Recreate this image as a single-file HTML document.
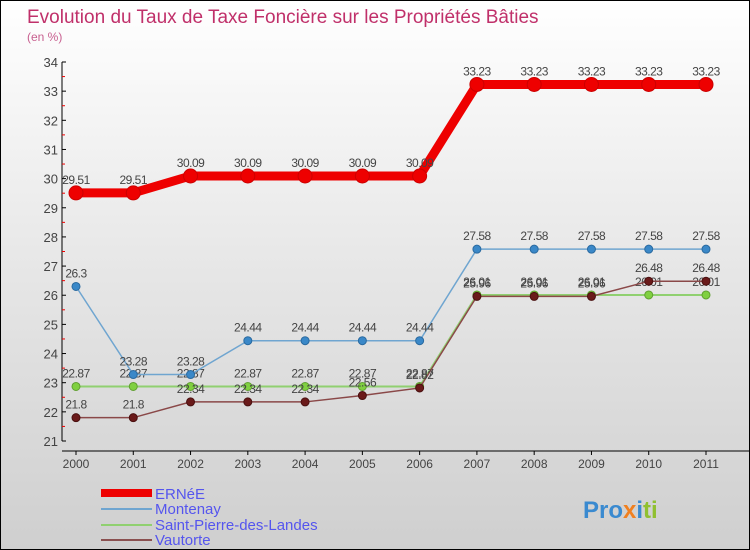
<!DOCTYPE html>
<html><head><meta charset="utf-8"><style>
body{margin:0}
#c{width:748px;height:548px;border:1px solid #000;background:linear-gradient(#fff,#e6e6e6 50%,#cfcfcf);position:relative;font-family:"Liberation Sans",sans-serif;overflow:hidden}
</style></head><body>
<div id="c">
<svg id="s" width="748" height="548" xmlns="http://www.w3.org/2000/svg">
<text x="26" y="22" font-size="19" fill="#c0306a">Evolution du Taux de Taxe Foncière sur les Propriétés Bâties</text>
<text x="26" y="40" font-size="12" fill="#c86090">(en %)</text>
<g id="ax"></g><g id="ser"></g>
<g font-size="15" fill="#5555ee">
<rect x="100" y="488" width="51" height="8" fill="#e00"/>
<text x="154" y="498">ERNéE</text>
<rect x="100" y="507" width="51" height="2" fill="#6fa5d0"/>
<text x="154" y="513">Montenay</text>
<rect x="100" y="523" width="51" height="2" fill="#90d070"/>
<text x="154" y="529">Saint-Pierre-des-Landes</text>
<rect x="100" y="538" width="51" height="2" fill="#8a5050"/>
<text x="154" y="544">Vautorte</text>
</g>
<text x="582" y="517" font-size="24" font-weight="bold"><tspan fill="#3a8ad0">Pro</tspan><tspan fill="#f08020">x</tspan><tspan fill="#3a8ad0">i</tspan><tspan fill="#90c030">ti</tspan></text>
</svg></div>
<script>
const years=[2000,2001,2002,2003,2004,2005,2006,2007,2008,2009,2010,2011];
const ernee=[29.51,29.51,30.09,30.09,30.09,30.09,30.09,33.23,33.23,33.23,33.23,33.23];
const montenay=[26.3,23.28,23.28,24.44,24.44,24.44,24.44,27.58,27.58,27.58,27.58,27.58];
const saintPierre=[22.87,22.87,22.87,22.87,22.87,22.87,22.87,26.01,26.01,26.01,26.01,26.01];
const vautorte=[21.8,21.8,22.34,22.34,22.34,22.56,22.82,25.96,25.96,25.96,26.48,26.48];
const yTicks=[21,22,23,24,25,26,27,28,29,30,31,32,33,34];
const NS="http://www.w3.org/2000/svg";
const x=i=>75+i*(630/11);
const y=v=>440-(v-21)*(379/13);
function mk(t,a,p){const e=document.createElementNS(NS,t);for(const k in a)e.setAttribute(k,a[k]);if(p)p.appendChild(e);return e;}
const ax=document.getElementById('ax');
let l=mk('line',{x1:61,y1:61,x2:61,y2:440,stroke:'#000'},ax);


l=mk('line',{x1:61,y1:450,x2:748,y2:450,stroke:'#000'},ax);


yTicks.forEach(v=>{mk('line',{x1:61,x2:65,y1:y(v),y2:y(v),stroke:'#000'},ax);
 if(v<34)mk('line',{x1:61,x2:64,y1:y(v+0.5),y2:y(v+0.5),stroke:'#e00'},ax);
 const t=mk('text',{x:57,y:y(v)+5,'text-anchor':'end','font-size':13,fill:'#444'},ax);t.textContent=v;
 
 });
years.forEach((yr,i)=>{mk('line',{x1:x(i),x2:x(i),y1:450,y2:454,stroke:'#000'},ax);
 const t=mk('text',{x:x(i),y:467,'text-anchor':'middle','font-size':12,fill:'#444'},ax);t.textContent=yr;
 
 });
const ser=document.getElementById('ser');
function draw(d,name,col,w,r,dot,stk){
 const g=mk('g',{},ser);
 
 
 mk('polyline',{points:d.map((v,i)=>x(i)+','+y(v)).join(' '),fill:'none',stroke:col,'stroke-width':w},g);
 d.forEach((v,i)=>{const c=mk('circle',{cx:x(i),cy:y(v),r:r,fill:dot,stroke:stk,'stroke-width':1},g);
  
  
  const t=mk('text',{x:x(i),y:y(v)-9,'text-anchor':'middle','font-size':12,fill:'#444','letter-spacing':'-0.5'},g);t.textContent=v;
  
  });
}
draw(saintPierre,'saint-pierre','#90d070',2,4,'#80d040','#60a030');
draw(vautorte,'vautorte','#8a4848',1.5,4,'#6a1a1a','#4a1010');
draw(montenay,'montenay','#6fa5d0',1.5,4,'#3a88c8','#2a6aa0');
draw(ernee,'ernee','#e00',9,7,'#e00','#c00');
</script>
</body></html>
